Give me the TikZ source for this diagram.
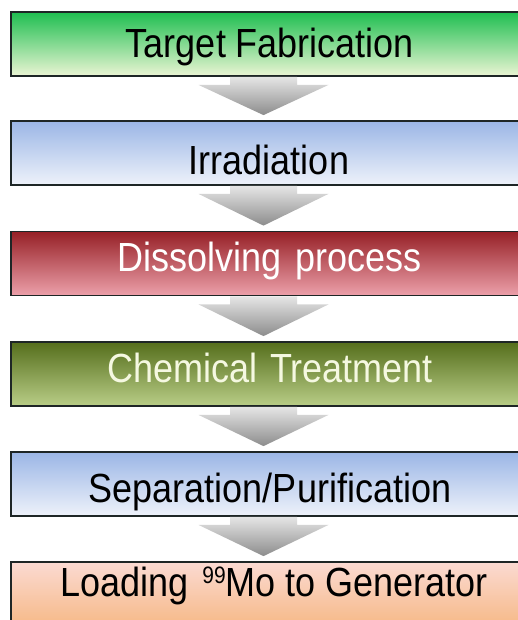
\documentclass[tikz,border=0pt]{standalone}
\usepackage{fontspec}
\setmainfont{Liberation Sans}
\usetikzlibrary{calc}
\definecolor{gA}{RGB}{30,190,80}
\definecolor{gB}{RGB}{155,208,75}
\definecolor{gC}{RGB}{235,245,212}
\definecolor{bA}{RGB}{155,182,230}
\definecolor{bB}{RGB}{195,210,240}
\definecolor{bC}{RGB}{238,242,250}
\definecolor{rA}{RGB}{150,32,38}
\definecolor{rB}{RGB}{175,48,58}
\definecolor{rC}{RGB}{236,160,170}
\definecolor{oA}{RGB}{85,110,28}
\definecolor{oB}{RGB}{112,142,50}
\definecolor{oC}{RGB}{185,206,135}
\definecolor{yA}{RGB}{251,218,210}
\definecolor{yB}{RGB}{242,160,100}
\definecolor{yC}{RGB}{246,185,135}
\definecolor{edge}{RGB}{30,38,38}
\definecolor{lighttxt}{RGB}{245,248,225}
\begin{document}
\begin{tikzpicture}[x=1pt,y=-1pt,
  stagebox/.style={draw=edge, line width=1.8pt, minimum width=518pt, minimum height=64pt, inner sep=0pt},
  greenbox/.style={stagebox, top color=gA, middle color=gB, bottom color=gC},
  bluebox/.style={stagebox, top color=bA, middle color=bB, bottom color=bC},
  redbox/.style={stagebox, top color=rA, middle color=rB, bottom color=rC},
  olivebox/.style={stagebox, top color=oA, middle color=oB, bottom color=oC},
  orangebox/.style={stagebox, top color=yA, middle color=yB, bottom color=yC},
  lbl/.style={anchor=base, inner sep=0pt, font=\fontsize{36}{40}\selectfont},
  flow/.style={top color=black!10, bottom color=black!45, draw=none}]
\useasboundingbox (0,0) rectangle (518,620);
\clip (0,0) rectangle (518,620);
\fill[white] (0,0) rectangle (518,620);
% boxes
\node[greenbox]  (b1) at (270,44)  {};
\node[bluebox]   (b2) at (270,153) {};
\node[redbox]    (b3) at (270,263.5) {};
\node[olivebox]  (b4) at (270,374) {};
\node[bluebox]   (b5) at (270,484) {};
\node[orangebox] (b6) at (270,594) {};
% labels
\node[lbl] (t1) at ($(b1.north)+(0,46)$) {\scalebox{1}[1.13]{Target Fabrication}};
\node[lbl] (t2) at ($(b2.north)+(-1,54)$) {\scalebox{1}[1.13]{Irradiation}};
\node[lbl, text=white] (t3) at ($(b3.north)+(0,41)$) {\scalebox{1}[1.13]{Dissolving\hspace{4pt} process}};
\node[lbl, text=lighttxt] (t4) at ($(b4.north)+(0,41)$) {\scalebox{1}[1.13]{Chemical\hspace{3pt} Treatment}};
\node[lbl] (t5) at ($(b5.north)+(0,51)$) {\scalebox{1}[1.13]{Separation/Purification}};
\node[lbl] (t6) at ($(b6.north)+(4,35)$) {\scalebox{1}[1.13]{Loading\hspace{4pt} \raisebox{11pt}{\fontsize{21}{21}\selectfont 99}Mo to Generator}};
% arrows
\foreach \a/\b in {b1/b2,b2/b3,b3/b4,b4/b5,b5/b6}{
  \shade[flow]
    ($(\a.south)+(-40,0)$) -- ($(\a.south)+(27,0)$) -- ($(\a.south)+(27,8)$) --
    ($(\a.south)+(58.5,8)$) -- ($(\b.north)+(-6.5,-5)$) --
    ($(\a.south)+(-71.5,8)$) -- ($(\a.south)+(-40,8)$) -- cycle;
}
\end{tikzpicture}
\end{document}
